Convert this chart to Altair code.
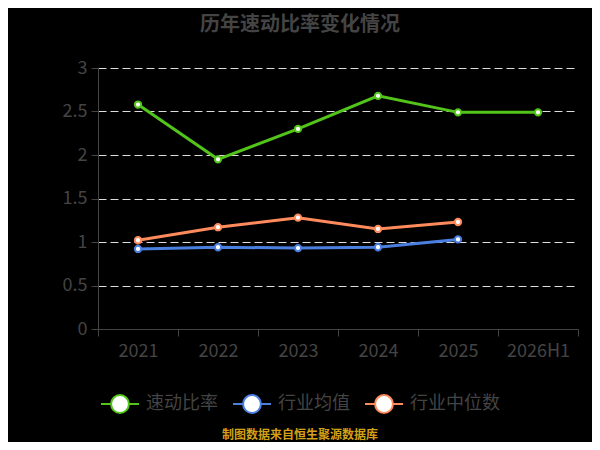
import altair as alt
import pandas as pd

years = ["2021", "2022", "2023", "2024", "2025", "2026H1"]
quick_ratio = [2.58, 1.95, 2.30, 2.68, 2.49, 2.49]
industry_years = ["2021", "2022", "2023", "2024", "2025"]
industry_mean = [0.92, 0.94, 0.93, 0.94, 1.03]
industry_median = [1.02, 1.17, 1.28, 1.15, 1.23]
series = ["速动比率", "行业均值", "行业中位数"]
colors = ["#52c41a", "#4a7fe0", "#ff8a5c"]
y_ticks = [0, 0.5, 1, 1.5, 2, 2.5, 3]

rows = []
for yr, v in zip(years, quick_ratio):
    rows.append({"year": yr, "series": series[0], "value": v})
for yr, v in zip(industry_years, industry_mean):
    rows.append({"year": yr, "series": series[1], "value": v})
for yr, v in zip(industry_years, industry_median):
    rows.append({"year": yr, "series": series[2], "value": v})
df = pd.DataFrame(rows)

FONT = "Noto Sans CJK SC"
GRAY = "#444444"

x = alt.X("year:N", sort=years,
          scale=alt.Scale(domain=years, paddingInner=0, paddingOuter=0),
          axis=alt.Axis(title=None, labelAngle=0, tickBand="extent",
                        labelFontSize=18, labelColor=GRAY, labelFont=FONT,
                        domainColor=GRAY, tickColor=GRAY, tickSize=7,
                        labelPadding=6, grid=False))
y = alt.Y("value:Q", scale=alt.Scale(domain=[0, 3]),
          axis=alt.Axis(title=None, values=y_ticks, format="~g", labelFontSize=18,
                        labelColor=GRAY, labelFont=FONT, domainColor=GRAY,
                        tickColor=GRAY, tickSize=7, labelPadding=4,
                        grid=True, gridColor="#dddddd", gridDash=[8, 4],
                        gridWidth=1.2))
color_scale = alt.Scale(domain=series, range=colors)

legend = alt.Legend(title=None, orient="none", direction="horizontal",
                    legendX=2, legendY=316,
                    symbolType="M-1,0L-0.47,0M0.47,0L1,0M0.47,0A0.47,0.47,0,1,1,-0.47,0A0.47,0.47,0,1,1,0.47,0Z",
                    symbolSize=1444, symbolStrokeWidth=2, symbolFillColor="white",
                    labelFontSize=18, labelColor=GRAY, labelFont=FONT,
                    labelOffset=6, columnPadding=11)

base = alt.Chart(df)
line = base.mark_line(strokeWidth=3).encode(
    x=x, y=y, color=alt.Color("series:N", scale=color_scale, legend=legend))
pts = base.mark_point(filled=False, fill="white", size=40, strokeWidth=2,
                      opacity=1, fillOpacity=1).encode(
    x=x, y=y, color=alt.Color("series:N", scale=color_scale, legend=legend))

title_df = pd.DataFrame({"t": ["历年速动比率变化情况"]})
title = alt.Chart(title_df).mark_text(font=FONT, fontSize=20, fontWeight="bold",
                                      color=GRAY, baseline="middle", align="center").encode(
    x=alt.value(202), y=alt.value(-43), text="t:N")

src_df = pd.DataFrame({"t": ["制图数据来自恒生聚源数据库"]})
src = alt.Chart(src_df).mark_text(font=FONT, fontSize=12, fontWeight="bold",
                                  color="#d4a017", baseline="middle", align="center").encode(
    x=alt.value(202), y=alt.value(367), text="t:N")

chart = alt.layer(line, pts, title, src).properties(
    width=480, height=261,
    autosize=alt.AutoSizeParams(type="none"),
    padding={"left": 90, "top": 60, "right": 14, "bottom": 113},
    background="black",
).configure_view(stroke=None)

chart.save("out.html", embed_options={"renderer": "svg", "actions": False})
